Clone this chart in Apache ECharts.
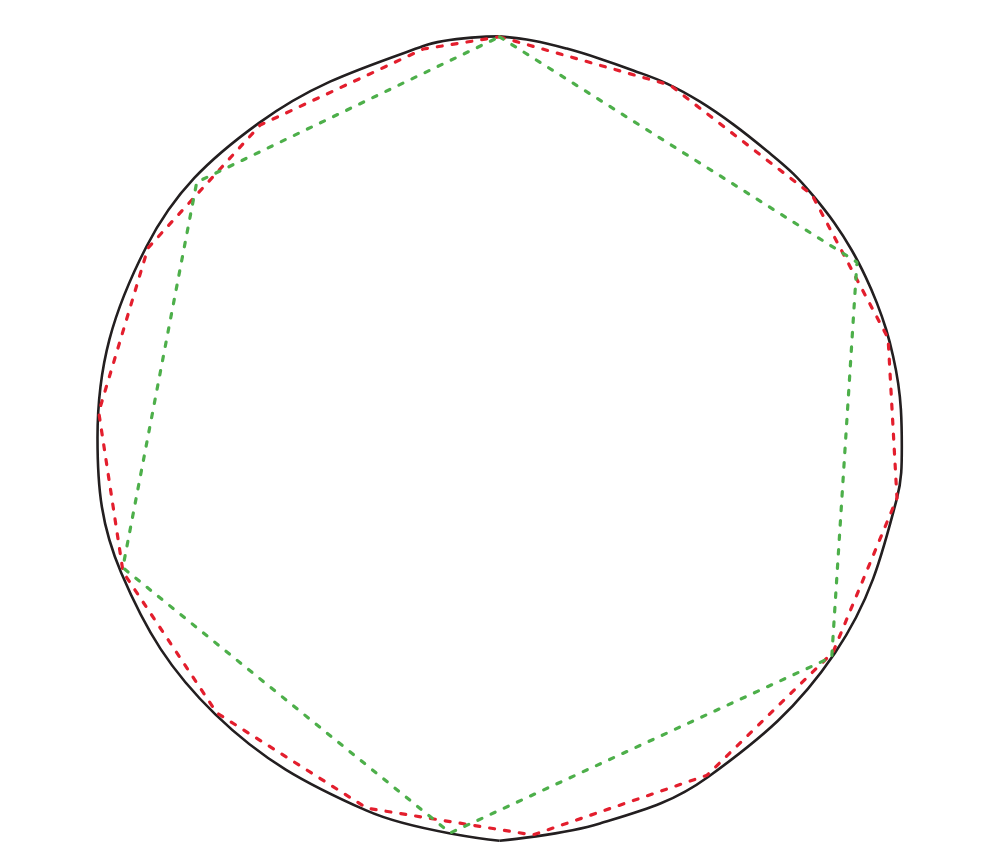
<!DOCTYPE html>
<html>
<head>
<meta charset="utf-8">
<script src="https://cdn.jsdelivr.net/npm/echarts@6/dist/echarts.min.js"></script>
<style>
html,body{margin:0;padding:0;background:#fff;}
#chart{width:1000px;height:865px;}
</style>
</head>
<body>
<div id="chart"></div>
<script>
// Angles in degrees, clockwise from top; radii in units of the circle radius (402 px)
var circleRightAngles = [0, 4.9, 9.8, 14.8, 20.0, 25.2, 30.8, 36.7, 43.0, 48.0, 52.4, 57.3, 61.9, 66.2, 70.3, 74.4, 78.3, 82.2, 86.0, 91.2, 98.6, 122.7, 148.4, 165.4, 180];
var circleRightRadii  = [0.999, 0.992, 0.983, 0.976, 0.973, 0.975, 0.974, 0.973, 0.976, 0.983, 0.986, 0.990, 0.993, 0.995, 0.997, 0.999, 1.000, 1.001, 1.001, 1.001, 1.000, 0.991, 0.990, 0.991, 1.002];
var circleLeftAngles  = [180, 199.7, 225.8, 250.4, 270, 298.4, 322.6, 348.9, 360];
var circleLeftRadii   = [1.002, 0.984, 0.986, 0.999, 1.000, 0.999, 0.986, 0.993, 0.999];

var redAngles = [0, 25.8, 52.1, 75.6, 98.6, 122.7, 148.4, 175.2, 199.7, 225.8, 250.4, 273.7, 298.4, 322.6, 348.9, 360];
var redRadii  = [0.998, 0.975, 0.985, 0.998, 1.000, 0.986, 0.985, 0.991, 0.978, 0.981, 0.994, 0.999, 0.994, 0.980, 0.986, 0.998];

var greenAngles = [0, 63.8, 123.4, 187.1, 251, 310.2, 360];
var greenRadii  = [0.998, 0.991, 0.990, 0.990, 0.991, 0.986, 0.998];

function zip(radii, angles) {
  return angles.map(function (a, i) { return [radii[i], a]; });
}

var chart = echarts.init(document.getElementById('chart'), null, {renderer: 'canvas'});
chart.setOption({
  animation: false,
  backgroundColor: '#ffffff',
  // radius axis runs to 1.05 so that unit radius = 402 px and nothing is clipped
  polar: { center: [499.5, 438], radius: 422.1 },
  angleAxis: { type: 'value', min: 0, max: 360, startAngle: 90, clockwise: true, show: false },
  radiusAxis: { type: 'value', min: 0, max: 1.05, show: false },
  series: [
    {
      type: 'line', coordinateSystem: 'polar', clip: false, smooth: 0.38, showSymbol: false,
      data: zip(circleRightRadii, circleRightAngles),
      lineStyle: { color: '#231f20', width: 2.6 }, z: 1
    },
    {
      type: 'line', coordinateSystem: 'polar', clip: false, smooth: 0.38, showSymbol: false,
      data: zip(circleLeftRadii, circleLeftAngles),
      lineStyle: { color: '#231f20', width: 2.6 }, z: 1
    },
    {
      type: 'line', coordinateSystem: 'polar', clip: false, showSymbol: false,
      data: zip(redRadii, redAngles),
      lineStyle: { color: '#e31e2d', width: 3.2, type: [5, 10], cap: 'round' }, z: 2
    },
    {
      type: 'line', coordinateSystem: 'polar', clip: false, showSymbol: false,
      data: zip(greenRadii, greenAngles),
      lineStyle: { color: '#4daf4a', width: 3.2, type: [4.5, 10], cap: 'round' }, z: 3
    }
  ]
});
</script>
</body>
</html>
